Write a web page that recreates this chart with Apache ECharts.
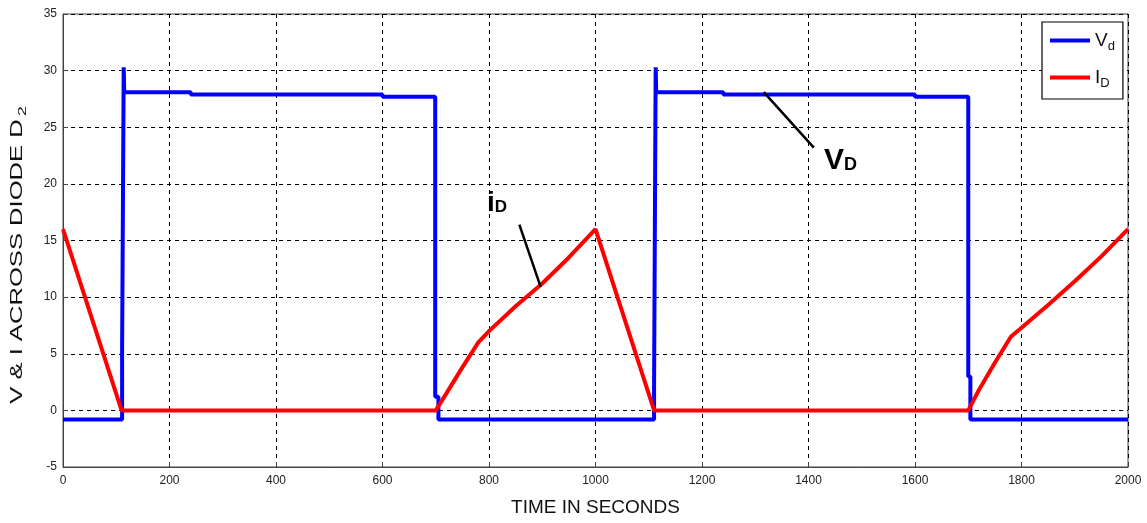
<!DOCTYPE html>
<html>
<head>
	<meta charset="utf-8"/>
	<title>V & I across diode D2</title>
</head>
<body style="margin: 0; background: #fff;">

	<div id="chart" style="width: 1147px; height: 523px;"></div>

	<script src="https://cdn.jsdelivr.net/npm/echarts@6/dist/echarts.min.js"></script>
	<script>

		// x tick values (seconds) and y tick values
		var xTicks = [0, 200, 400, 600, 800, 1000, 1200, 1400, 1600, 1800, 2000];
		var yTicks = [-5, 0, 5, 10, 15, 20, 25, 30, 35];

		// V_d : diode voltage, [time, value]
		var vdData = [
			[0, -0.8], [111, -0.8], [111, 5.3], [114, 5.3], [114, 30.3], [115, 28.1],
			[240, 28.1], [240, 27.9], [600, 27.9], [600, 27.7], [699, 27.7],
			[699, 1.2], [705, 1.2], [705, -0.8],
			[1110, -0.8], [1110, 2], [1113, 2], [1113, 30.3], [1114, 28.1],
			[1240, 28.1], [1240, 27.9], [1600, 27.9], [1600, 27.7], [1700, 27.7],
			[1700, 3], [1704, 3], [1704, -0.8], [2000, -0.8]
		];

		// I_D : diode current, [time, value]
		var idData = [
			[0, 16], [110, 0], [700, 0], [720, 1.5], [750, 3.8], [780, 6.0],
			[800, 7.0], [850, 9.2], [900, 11.2], [950, 13.5], [1000, 16],
			[1110, 0], [1700, 0], [1720, 1.8], [1750, 4.2], [1780, 6.5],
			[1800, 7.3], [1850, 9.3], [1900, 11.4], [1950, 13.6], [2000, 16]
		];

		// annotation pointers (data coords)
		var vdPointer = [[1316, 28.1], [1410, 23.2]];
		var vdLabelAt = [1460, 22.0];
		var idPointer = [[857, 16.4], [897, 10.9]];
		var idLabelAt = [815, 18.2];

		var chart = echarts.init(document.getElementById('chart'));

		var tickFont = 'Liberation Sans';

		var option = {
			animation: false,
			grid: {
				left: 63, right: 19, top: 14, bottom: 56,
				show: true, borderColor: '#444', borderWidth: 1
			},
			// y axis title, drawn as stretched text like the source figure
			graphic: [{
				type: 'text',
				x: 18, y: 255,
				rotation: Math.PI / 2,
				scaleX: 1.6,
				style: {
					text: '{a|V & I ACROSS DIODE D}{b|2}',
					align: 'center',
					verticalAlign: 'middle',
					rich: {
						a: { fontSize: 16, fontFamily: 'Liberation Sans', fill: '#111' },
						b: { fontSize: 11, fontFamily: 'Liberation Sans', fill: '#111', padding: [9, 0, 0, 2] }
					}
				}
			}],
			legend: {
				data: ['Vd', 'ID'],
				orient: 'vertical',
				left: 1042, top: 22,
				padding: [9, 8, 9, 8],
				itemGap: 15,
				itemWidth: 40,
				itemHeight: 4,
				icon: 'rect',
				backgroundColor: '#fff',
				borderColor: '#000',
				borderWidth: 1.2,
				formatter: function (name) {
					return name === 'Vd' ? '{m|V}{s|d}' : '{m|I}{s|D}';
				},
				textStyle: {
					rich: {
						m: { fontSize: 19, lineHeight: 24, fontFamily: 'Liberation Sans', color: '#111' },
						s: { fontSize: 13, fontFamily: 'Liberation Sans', color: '#111', padding: [12, 0, 0, 0] }
					}
				}
			},
			xAxis: {
				type: 'value',
				min: 0, max: 2000, interval: 200,
				name: 'TIME IN SECONDS',
				nameLocation: 'middle',
				nameGap: 31,
				nameTextStyle: { fontSize: 19, fontFamily: 'Liberation Sans', color: '#111' },
				axisLine: { onZero: false, lineStyle: { color: '#444' } },
				axisTick: { inside: true, length: 5, lineStyle: { color: '#444' } },
				axisLabel: {
					fontSize: 12, fontFamily: tickFont, color: '#222', margin: 8,
					formatter: function (v) { return xTicks.indexOf(v) >= 0 ? String(v) : ''; }
				},
				splitLine: { show: true, lineStyle: { color: '#000', type: [4, 4], width: 1 } }
			},
			yAxis: {
				type: 'value',
				min: -5, max: 35, interval: 5,
				axisLine: { show: true, lineStyle: { color: '#444' } },
				axisTick: { inside: true, length: 5, lineStyle: { color: '#444' } },
				axisLabel: {
					fontSize: 12, fontFamily: tickFont, color: '#222', margin: 6,
					formatter: function (v) { return yTicks.indexOf(v) >= 0 ? String(v) : ''; }
				},
				splitLine: { show: true, lineStyle: { color: '#000', type: [4, 4], width: 1 } }
			},
			series: [
				{
					name: 'Vd',
					type: 'line',
					data: vdData,
					showSymbol: false,
					color: '#0000ff',
					lineStyle: { color: '#0000ff', width: 4 },
					markLine: {
						silent: true,
						symbol: 'none',
						label: { show: false },
						lineStyle: { color: '#000', width: 2.5, type: 'solid' },
						data: [[{ coord: vdPointer[0] }, { coord: vdPointer[1] }]]
					},
					markPoint: {
						silent: true,
						symbolSize: 1,
						itemStyle: { color: 'transparent' },
						label: {
							show: true,
							position: 'inside',
							formatter: '{b|V}{s|D}',
							rich: {
								b: { fontSize: 30, fontWeight: 'bold', fontFamily: 'Liberation Sans', color: '#000' },
								s: { fontSize: 18, fontWeight: 'bold', fontFamily: 'Liberation Sans', color: '#000', padding: [8, 0, 0, 0] }
							}
						},
						data: [{ coord: vdLabelAt }]
					},
					z: 2
				},
				{
					name: 'ID',
					type: 'line',
					data: idData,
					showSymbol: false,
					color: '#ff0000',
					lineStyle: { color: '#ff0000', width: 4 },
					markLine: {
						silent: true,
						symbol: 'none',
						label: { show: false },
						lineStyle: { color: '#000', width: 2.5, type: 'solid' },
						data: [[{ coord: idPointer[0] }, { coord: idPointer[1] }]]
					},
					markPoint: {
						silent: true,
						symbolSize: 1,
						itemStyle: { color: 'transparent' },
						label: {
							show: true,
							position: 'inside',
							formatter: '{b|i}{s|D}',
							rich: {
								b: { fontSize: 28, fontWeight: 'bold', fontFamily: 'Liberation Sans', color: '#000' },
								s: { fontSize: 17, fontWeight: 'bold', fontFamily: 'Liberation Sans', color: '#000', padding: [8, 0, 0, 0] }
							}
						},
						data: [{ coord: idLabelAt }]
					},
					z: 3
				}
			]
		};

		chart.setOption(option);

	</script>
</body>
</html>
